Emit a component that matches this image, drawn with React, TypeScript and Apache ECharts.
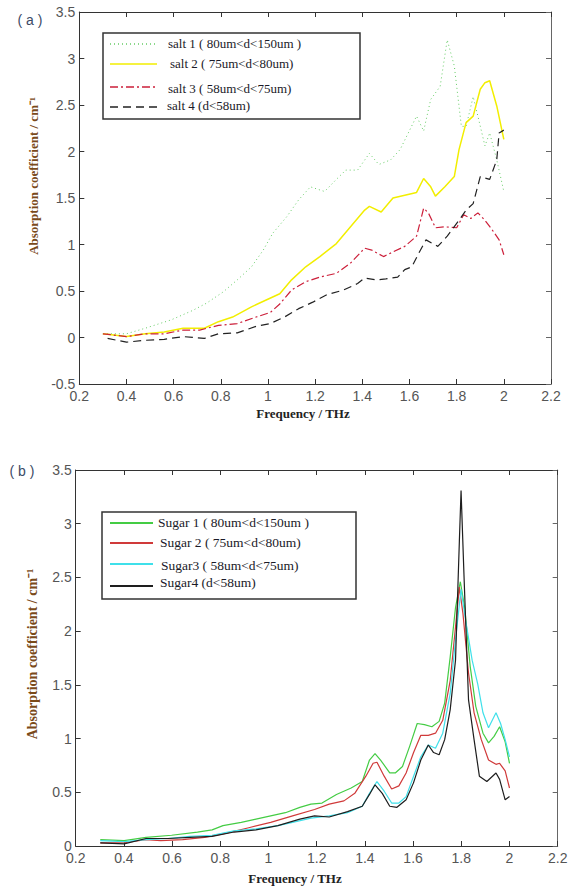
import React, { useEffect, useRef } from "react";
import * as echarts from "echarts";

// ---------- Data: panel (a) salt ----------
const salt1Freq = [0.30,0.40,0.48,0.59,0.68,0.74,0.81,0.87,0.93,0.98,1.02,1.08,1.13,1.18,1.24,1.29,1.33,1.38,1.43,1.47,1.52,1.56,1.63,1.66,1.69,1.73,1.76,1.79,1.82,1.84,1.87,1.89,1.92,1.94,1.97,2.00];
const salt1Abs = [0.04,0.04,0.10,0.19,0.29,0.37,0.49,0.62,0.76,0.94,1.12,1.30,1.48,1.62,1.57,1.70,1.80,1.80,1.98,1.86,1.91,2.02,2.38,2.22,2.56,2.70,3.20,2.92,2.27,2.27,2.59,2.38,2.06,2.20,1.91,1.57];

const salt2Freq = [0.30,0.40,0.48,0.56,0.64,0.73,0.79,0.85,0.93,0.99,1.05,1.10,1.16,1.22,1.29,1.35,1.41,1.43,1.48,1.53,1.58,1.63,1.66,1.69,1.71,1.75,1.79,1.81,1.84,1.87,1.90,1.92,1.94,1.97,2.00];
const salt2Abs = [0.04,0.01,0.04,0.06,0.10,0.10,0.17,0.22,0.33,0.40,0.47,0.62,0.76,0.87,1.01,1.19,1.37,1.41,1.35,1.50,1.53,1.56,1.71,1.62,1.52,1.62,1.73,2.02,2.31,2.38,2.67,2.74,2.76,2.49,2.13];

const salt3Freq = [0.30,0.40,0.48,0.56,0.64,0.71,0.79,0.87,0.95,1.01,1.05,1.10,1.16,1.22,1.29,1.35,1.41,1.44,1.49,1.53,1.58,1.63,1.66,1.68,1.71,1.75,1.80,1.83,1.86,1.89,1.92,1.95,1.98,2.00];
const salt3Abs = [0.04,0.01,0.04,0.04,0.08,0.08,0.13,0.15,0.22,0.27,0.36,0.51,0.60,0.65,0.69,0.80,0.96,0.94,0.87,0.92,0.98,1.09,1.39,1.34,1.18,1.19,1.18,1.32,1.28,1.34,1.26,1.16,1.05,0.89];

const salt4Freq = [0.32,0.40,0.48,0.56,0.64,0.73,0.79,0.87,0.95,1.01,1.07,1.13,1.19,1.25,1.32,1.38,1.41,1.46,1.50,1.55,1.58,1.61,1.64,1.67,1.72,1.76,1.81,1.84,1.87,1.90,1.94,1.97,1.98,2.00];
const salt4Abs = [-0.01,-0.05,-0.03,-0.02,0.01,-0.01,0.04,0.05,0.12,0.15,0.22,0.31,0.38,0.46,0.51,0.58,0.64,0.62,0.63,0.65,0.73,0.76,0.91,1.05,0.98,1.09,1.26,1.37,1.44,1.73,1.70,1.91,2.20,2.23];

// ---------- Data: panel (b) sugar ----------
const sugar1Freq = [0.302,0.401,0.492,0.598,0.705,0.766,0.811,0.887,0.948,1.009,1.070,1.130,1.176,1.222,1.282,1.343,1.389,1.419,1.442,1.465,1.503,1.526,1.556,1.586,1.617,1.647,1.678,1.708,1.731,1.754,1.776,1.796,1.814,1.837,1.860,1.890,1.913,1.936,1.959,1.982,2.000];
const sugar1Abs = [0.06,0.05,0.08,0.10,0.13,0.15,0.19,0.22,0.25,0.28,0.31,0.36,0.39,0.40,0.48,0.54,0.60,0.80,0.86,0.80,0.68,0.68,0.74,0.93,1.14,1.13,1.11,1.16,1.33,1.76,2.22,2.46,2.22,1.67,1.30,1.05,0.96,1.02,1.11,0.97,0.77];

const sugar2Freq = [0.302,0.401,0.492,0.553,0.644,0.735,0.826,0.918,1.009,1.100,1.191,1.252,1.313,1.358,1.404,1.434,1.450,1.480,1.511,1.541,1.571,1.602,1.632,1.663,1.693,1.723,1.754,1.776,1.792,1.807,1.830,1.853,1.883,1.913,1.944,1.959,1.982,2.000];
const sugar2Abs = [0.03,0.03,0.06,0.05,0.06,0.08,0.12,0.17,0.22,0.28,0.34,0.39,0.42,0.49,0.65,0.77,0.78,0.65,0.53,0.56,0.68,0.87,1.03,1.03,1.05,1.17,1.54,2.04,2.41,2.16,1.61,1.24,0.99,0.80,0.76,0.77,0.70,0.54];

const sugar3Freq = [0.302,0.401,0.492,0.583,0.674,0.766,0.857,0.948,1.039,1.100,1.176,1.252,1.328,1.389,1.419,1.450,1.480,1.511,1.541,1.571,1.602,1.632,1.663,1.693,1.723,1.754,1.776,1.799,1.818,1.845,1.868,1.890,1.913,1.944,1.963,1.982,2.000];
const sugar3Abs = [0.05,0.04,0.06,0.07,0.09,0.10,0.14,0.16,0.19,0.22,0.26,0.28,0.31,0.37,0.49,0.60,0.51,0.40,0.40,0.46,0.65,0.83,0.94,0.91,1.05,1.42,1.92,2.39,2.10,1.73,1.51,1.24,1.10,1.24,1.14,0.99,0.83];

const sugar4Freq = [0.302,0.401,0.492,0.583,0.674,0.766,0.857,0.948,1.039,1.130,1.191,1.252,1.328,1.389,1.419,1.442,1.472,1.503,1.533,1.571,1.602,1.632,1.663,1.685,1.708,1.731,1.754,1.776,1.792,1.799,1.811,1.830,1.853,1.875,1.906,1.944,1.959,1.982,2.000];
const sugar4Abs = [0.03,0.02,0.07,0.07,0.08,0.09,0.13,0.15,0.19,0.25,0.28,0.27,0.32,0.37,0.48,0.57,0.49,0.37,0.36,0.43,0.59,0.80,0.94,0.87,0.85,0.99,1.27,1.73,2.84,3.31,2.53,1.36,0.99,0.65,0.60,0.68,0.62,0.43,0.46];

// ---------- Labels ----------
const saltNames = [
  "salt 1 ( 80um<d<150um )",
  "salt 2 ( 75um<d<80um)",
  "salt 3 ( 58um<d<75um)",
  "salt 4 (d<58um)",
];
const sugarNames = [
  "Sugar 1 ( 80um<d<150um )",
  "Sugar 2 ( 75um<d<80um)",
  "Sugar3 ( 58um<d<75um)",
  "Sugar4 (d<58um)",
];
const xTitle = "Frequency / THz";
const yTitle = "Absorption coefficient / cm⁻¹";

const pair = (xs: number[], ys: number[]) => xs.map((x, i) => [x, ys[i]]);

const saltStyles = [
  { color: "#66cc66", width: 1, type: [1, 3] as any },
  { color: "#f2ee00", width: 1.5, type: "solid" as any },
  { color: "#cc1f3a", width: 1.2, type: [8, 3, 2, 3] as any },
  { color: "#222222", width: 1.2, type: [8, 5] as any },
];
const sugarStyles = [
  { color: "#44cc44", width: 1.2, type: "solid" as any },
  { color: "#d03a3a", width: 1.2, type: "solid" as any },
  { color: "#3fe0ea", width: 1.2, type: "solid" as any },
  { color: "#1e1e1e", width: 1.2, type: "solid" as any },
];

const fmt = (v: number) => String(Math.round(v * 10) / 10);
const labelStyle = {
  color: "#555",
  fontSize: 14,
  lineHeight: 12,
  fontFamily: '"Liberation Sans", Arial, sans-serif',
};

function xAxesFor(gridIndex: number) {
  const base = {
    type: "value" as const,
    gridIndex,
    min: 0.2,
    max: 2.2,
    interval: 0.2,
    splitLine: { show: false },
  };
  return [
    {
      ...base,
      position: "bottom",
      axisLine: { show: true, onZero: false, lineStyle: { color: "#333", width: 1 } },
      axisTick: { show: true, inside: true, length: 5, lineStyle: { color: "#333" } },
      axisLabel: { ...labelStyle, margin: 6, formatter: fmt },
    },
    {
      ...base,
      position: "top",
      axisLine: { show: true, onZero: false, lineStyle: { color: "#333", width: 1 } },
      axisTick: { show: true, inside: true, length: 5, lineStyle: { color: "#333" } },
      axisLabel: { show: false },
    },
  ];
}

function yAxesFor(gridIndex: number, min: number) {
  const base = {
    type: "value" as const,
    gridIndex,
    min,
    max: 3.5,
    interval: 0.5,
    splitLine: { show: false },
  };
  return [
    {
      ...base,
      position: "left",
      axisLine: { show: true, onZero: false, lineStyle: { color: "#333", width: 1 } },
      axisTick: { show: true, inside: true, length: 5, lineStyle: { color: "#333" } },
      axisLabel: { ...labelStyle, margin: 4, formatter: fmt },
    },
    {
      ...base,
      position: "right",
      axisLine: { show: true, onZero: false, lineStyle: { color: "#666", width: 1 } },
      axisTick: { show: true, inside: true, length: 5, lineStyle: { color: "#666" } },
      axisLabel: { show: false },
    },
  ];
}

function legendGraphic(
  box: { x: number; y: number; w: number; h: number },
  names: string[],
  styles: any[],
  lineX: [number, number],
  rows: { ly: number; tx: number; ty: number }[],
  fontSize: number,
  legendLineWidth: number
) {
  const els: any[] = [
    {
      type: "rect",
      shape: { x: box.x, y: box.y, width: box.w, height: box.h },
      style: { fill: "#fff", stroke: "#333", lineWidth: 1.5 },
      z: 10,
    },
  ];
  names.forEach((n, i) => {
    const s = styles[i];
    els.push({
      type: "line",
      shape: { x1: lineX[0], y1: rows[i].ly, x2: lineX[1], y2: rows[i].ly },
      style: {
        stroke: s.color,
        lineWidth: legendLineWidth,
        lineDash: Array.isArray(s.type) ? s.type : null,
      },
      z: 11,
    });
    els.push({
      type: "text",
      x: rows[i].tx,
      y: rows[i].ty,
      style: {
        text: n,
        fill: "#1a1a28",
        fontSize,
        fontFamily: '"Liberation Serif", "Times New Roman", serif',
        align: "left",
        verticalAlign: "middle",
      },
      z: 11,
    });
  });
  return els;
}

export default function App() {
  const ref = useRef<HTMLDivElement>(null);
  useEffect(() => {
    if (!ref.current) return;
    const chart = echarts.init(ref.current, undefined, { renderer: "svg" });

    const saltData = [
      pair(salt1Freq, salt1Abs),
      pair(salt2Freq, salt2Abs),
      pair(salt3Freq, salt3Abs),
      pair(salt4Freq, salt4Abs),
    ];
    const sugarData = [
      pair(sugar1Freq, sugar1Abs),
      pair(sugar2Freq, sugar2Abs),
      pair(sugar3Freq, sugar3Abs),
      pair(sugar4Freq, sugar4Abs),
    ];

    const series: any[] = [];
    saltData.forEach((d, i) =>
      series.push({
        type: "line",
        name: saltNames[i],
        xAxisIndex: 0,
        yAxisIndex: 0,
        data: d,
        showSymbol: false,
        symbol: "none",
        lineStyle: saltStyles[i],
        z: 2 + i,
      })
    );
    sugarData.forEach((d, i) =>
      series.push({
        type: "line",
        name: sugarNames[i],
        xAxisIndex: 2,
        yAxisIndex: 2,
        data: d,
        showSymbol: false,
        symbol: "none",
        lineStyle: sugarStyles[i],
        z: 2 + i,
      })
    );

    const titleFont = '"Liberation Serif", "Times New Roman", serif';
    const graphic: any[] = [
      {
        type: "text",
        x: 30,
        y: 20,
        style: { text: "( a )", fill: "#3b4a66", fontSize: 14, fontFamily: '"Liberation Sans", Arial, sans-serif', align: "center", verticalAlign: "middle" },
      },
      {
        type: "text",
        x: 22,
        y: 471,
        style: { text: "( b )", fill: "#3b4a66", fontSize: 14, fontFamily: '"Liberation Sans", Arial, sans-serif', align: "center", verticalAlign: "middle" },
      },
      {
        type: "text",
        x: 33,
        y: 176,
        rotation: Math.PI / 2,
        style: { text: yTitle, fill: "#7a4a1a", fontSize: 13, fontWeight: "bold", fontFamily: titleFont, align: "center", verticalAlign: "middle" },
      },
      {
        type: "text",
        x: 32,
        y: 654,
        rotation: Math.PI / 2,
        style: { text: yTitle, fill: "#7a4a1a", fontSize: 14, fontWeight: "bold", fontFamily: titleFont, align: "center", verticalAlign: "middle" },
      },
      {
        type: "text",
        x: 303,
        y: 413,
        style: { text: xTitle, fill: "#222", fontSize: 13, fontWeight: "bold", fontFamily: titleFont, align: "center", verticalAlign: "middle" },
      },
      {
        type: "text",
        x: 295,
        y: 878,
        style: { text: xTitle, fill: "#222", fontSize: 13, fontWeight: "bold", fontFamily: titleFont, align: "center", verticalAlign: "middle" },
      },
      ...legendGraphic(
        { x: 103, y: 33, w: 257, h: 86 },
        saltNames,
        saltStyles,
        [110, 157],
        [
          { ly: 44, tx: 168, ty: 43 },
          { ly: 64, tx: 170, ty: 63 },
          { ly: 87, tx: 168, ty: 88 },
          { ly: 107, tx: 167, ty: 105 },
        ],
        13,
        1.5
      ),
      ...legendGraphic(
        { x: 102, y: 512, w: 254, h: 87 },
        sugarNames,
        sugarStyles,
        [110, 153],
        [
          { ly: 523, tx: 158, ty: 522 },
          { ly: 543, tx: 160, ty: 542 },
          { ly: 564, tx: 161, ty: 565 },
          { ly: 586, tx: 160, ty: 582 },
        ],
        13.5,
        2
      ),
    ];

    chart.setOption({
      animation: false,
      backgroundColor: "#fff",
      grid: [
        { left: 79.3, top: 12, width: 471.7, height: 372, containLabel: false },
        { left: 75.7, top: 470, width: 482, height: 376, containLabel: false },
      ],
      xAxis: [...xAxesFor(0), ...xAxesFor(1)],
      yAxis: [...yAxesFor(0, -0.5), ...yAxesFor(1, 0)],
      series,
      graphic,
    });
    return () => chart.dispose();
  }, []);

  return (
    <div
      ref={ref}
      style={{ position: "absolute", left: 0, top: 0, width: 572, height: 886, background: "#fff" }}
    />
  );
}
